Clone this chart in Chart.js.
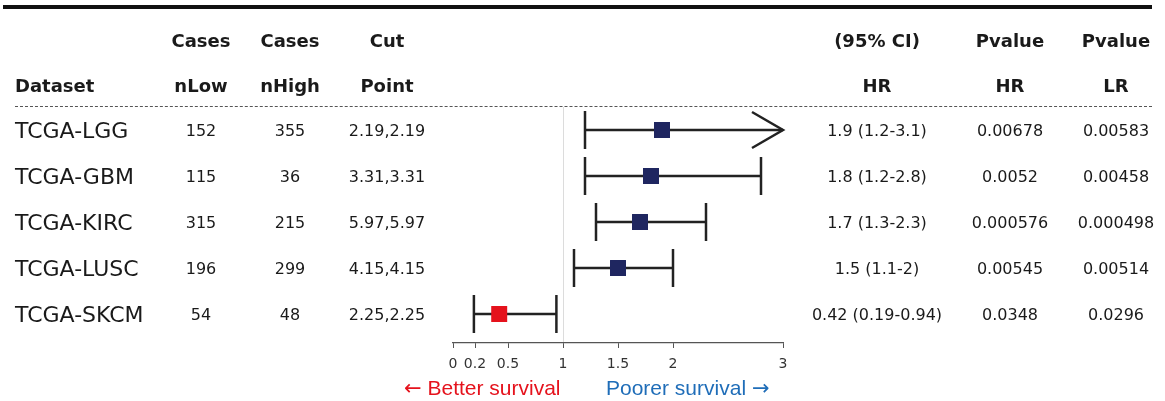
<!DOCTYPE html>
<html>
<head>
<meta charset="utf-8">
<script src="https://cdn.jsdelivr.net/npm/chart.js@4"></script>
<style>
  body { margin: 0; background: #fff; }
  #wrap { position: relative; width: 1165px; height: 401px; overflow: hidden; font-family: 'DejaVu Sans', sans-serif; color: #1a1a1a; }
  #chart { position: absolute; left: 0; top: 0; }
  .cell { position: absolute; transform: translate(-50%, -50%); white-space: nowrap; font-size: 16px; }
  .name { transform: translate(0, -50%); font-size: 22px; }
  .head { font-weight: bold; font-size: 18px; color: #1a1a1a; }
  .topline { position: absolute; left: 3px; top: 5px; width: 1149px; height: 4px; background: #111; }
  .dash { position: absolute; left: 15px; top: 106px; width: 1137px; border-top: 1px dashed #555; }
  .surv { position: absolute; font-family: 'Liberation Sans', Arial, sans-serif; font-size: 21px; transform: translate(0, -50%); white-space: nowrap; }
  .surv span { font-family: 'DejaVu Sans', sans-serif; }
</style>
</head>
<body>
<div id="wrap">
  <canvas id="chart" width="1165" height="401"></canvas>
  <div class="topline"></div>
  <div class="dash"></div>
</div>
<script>
// table data
const datasetNames = ['TCGA-LGG', 'TCGA-GBM', 'TCGA-KIRC', 'TCGA-LUSC', 'TCGA-SKCM'];
const nLow = [152, 115, 315, 196, 54];
const nHigh = [355, 36, 215, 299, 48];
const cutPoint = ['2.19,2.19', '3.31,3.31', '5.97,5.97', '4.15,4.15', '2.25,2.25'];
const hr = [1.9, 1.8, 1.7, 1.5, 0.42];
const ciLow = [1.2, 1.2, 1.3, 1.1, 0.19];
const ciHigh = [3.1, 2.8, 2.3, 2, 0.94];
const pvalueHR = ['0.00678', '0.0052', '0.000576', '0.00545', '0.0348'];
const pvalueLR = ['0.00583', '0.00458', '0.000498', '0.00514', '0.0296'];
const xTicks = [0, 0.2, 0.5, 1, 1.5, 2, 3];

const navy = '#1f2660';
const red = '#e5121c';
const ink = '#222';

// columns: [x center, header line 1, header line 2, values]
const columns = [
    [201, 'Cases', 'nLow', nLow],
    [290, 'Cases', 'nHigh', nHigh],
    [387, 'Cut', 'Point', cutPoint],
    [877, '(95% CI)', 'HR', hr.map((v, i) => `${v} (${ciLow[i]}-${ciHigh[i]})`)],
    [1010, 'Pvalue', 'HR', pvalueHR],
    [1116, 'Pvalue', 'LR', pvalueLR]
];

// arrow head for a CI that runs past the axis max
const arrowPlugin = {
    id: 'ciArrow',
    afterDatasetsDraw(chart) {
        const { ctx, scales: { x, y } } = chart;
        ctx.save();
        ctx.strokeStyle = ink;
        ctx.lineWidth = 2.5;
        ciHigh.forEach((hi, i) => {
            if (hi <= x.max) return;
            const px = x.getPixelForValue(x.max);
            const py = y.getPixelForValue(i);
            ctx.beginPath();
            ctx.moveTo(px - 31, py - 18);
            ctx.lineTo(px, py);
            ctx.lineTo(px - 31, py + 18);
            ctx.stroke();
        });
        ctx.restore();
    }
};

// whisker segments, broken by null points
const ciLines = [];
const caps = [];
hr.forEach((_, i) => {
    ciLines.push({ x: ciLow[i], y: i }, { x: ciHigh[i], y: i }, { x: null, y: null });
    caps.push({ x: ciLow[i], y: i });
    if (ciHigh[i] <= 3) caps.push({ x: ciHigh[i], y: i });
});

const chart = new Chart(document.getElementById('chart'), {
    type: 'scatter',
    data: {
        datasets: [
            {
                label: 'HR',
                data: hr.map((v, i) => ({ x: v, y: i })),
                pointStyle: 'rect',
                pointRadius: 11.3,
                pointBackgroundColor: hr.map(v => v < 1 ? red : navy),
                pointBorderWidth: 0,
                order: 0
            },
            {
                label: 'caps',
                data: caps,
                pointStyle: 'line',
                pointRotation: 90,
                pointRadius: 19,
                pointBorderColor: ink,
                pointBorderWidth: 2.5,
                order: 1
            },
            {
                label: 'CI',
                data: ciLines,
                showLine: true,
                spanGaps: false,
                pointRadius: 0,
                borderColor: ink,
                borderWidth: 2.5,
                order: 2
            }
        ]
    },
    options: {
        responsive: false,
        animation: false,
        layout: { padding: { left: 453, right: 382, top: 107, bottom: 0 } },
        plugins: { legend: { display: false }, tooltip: { enabled: false } },
        scales: {
            x: {
                type: 'linear',
                min: 0,
                max: 3,
                afterBuildTicks: s => { s.ticks = xTicks.map(v => ({ value: v })); },
                afterFit: s => { s.height = 58; },
                ticks: {
                    font: { family: 'DejaVu Sans', size: 14 },
                    color: '#333',
                    padding: 8,
                    autoSkip: false,
                    maxRotation: 0,
                    callback: v => String(v)
                },
                grid: {
                    color: c => (c.tick && c.tick.value === 1) ? '#dcdcdc' : 'rgba(0,0,0,0)',
                    tickColor: '#555',
                    tickLength: 5,
                    lineWidth: 1
                },
                border: { color: '#555', width: 1.2 }
            },
            y: { type: 'linear', reverse: true, min: -0.5, max: 4.63, offset: false, display: false }
        }
    },
    plugins: [arrowPlugin]
});

// table text positioned from the chart's row scale
const wrap = document.getElementById('wrap');
function addText(cls, text, left, top) {
    const d = document.createElement('div');
    d.className = cls;
    d.textContent = text;
    d.style.left = left + 'px';
    d.style.top = top + 'px';
    wrap.appendChild(d);
    return d;
}

const dsHead = addText('cell head', 'Dataset', 15, 85);
dsHead.style.transform = 'translate(0, -50%)';
columns.forEach(([cx, h1, h2, vals]) => {
    addText('cell head', h1, cx, 40);
    addText('cell head', h2, cx, 85);
    vals.forEach((v, i) => addText('cell', v, cx, chart.scales.y.getPixelForValue(i)));
});
datasetNames.forEach((n, i) => addText('cell name', n, 15, chart.scales.y.getPixelForValue(i)));

const one = chart.scales.x.getPixelForValue(1);
const better = addText('surv', '', 0, 388);
better.innerHTML = '<span>\u2190</span> Better survival';
better.style.color = red;
better.style.left = (one - 2 - better.offsetWidth) + 'px';
const poorer = addText('surv', '', one + 43, 388);
poorer.innerHTML = 'Poorer survival <span>\u2192</span>';
poorer.style.color = '#1f6db8';
</script>
</body>
</html>
